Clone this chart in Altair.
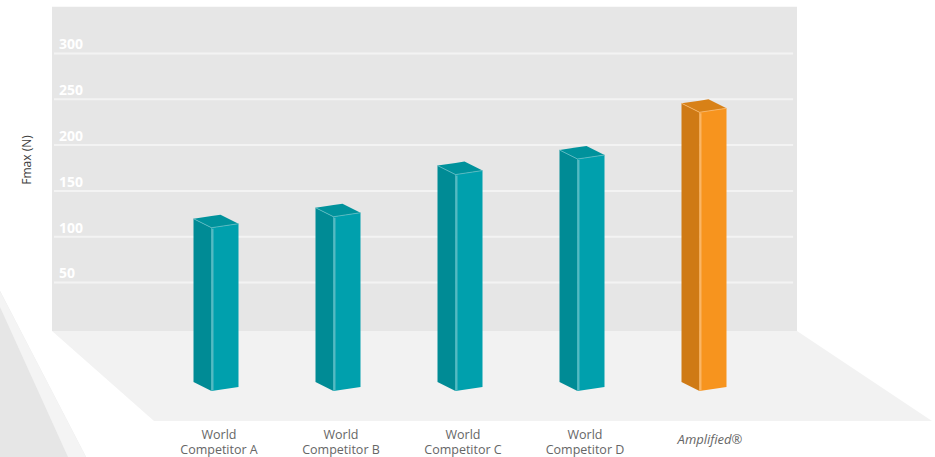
import altair as alt
import pandas as pd

# ---- chart data -------------------------------------------------------------
CATEGORIES = ["World\nCompetitor A", "World\nCompetitor B", "World\nCompetitor C",
              "World\nCompetitor D", "Amplified®"]
FMAX = [124, 136, 182, 199, 250]
IS_OURS = [False, False, False, False, True]
Y_TICKS = [50, 100, 150, 200, 250, 300]
Y_TITLE = "Fmax (N)"

# ---- layout frame (scale units: x = slot index, y = newtons) ----------------
W, H = 935, 457
SLOT_PX = 122.0          # pixels between neighbouring bars
UNIT_PX = 0.916          # pixels per newton
X_DOMAIN = [-1.7705, 5.8934]
Y_DOMAIN = [-140.5, 358.4]

WALL_X = (-1.344, 4.762)
WALL_Y = (-3.0, 351.0)
GRID_X = (-1.328, 4.730)
FLOOR_FRONT = -101.2
FLOOR_FRONT_X = (-0.508, 5.869)
BAR_BASE = -68.4


def dx(px):
    return px / SLOT_PX


def dy(px):
    return px / UNIT_PX


TEAL = {"side": "#008b95", "front": "#00a0ad", "top": "#00929c", "edge": "#63bec6"}
ORANGE = {"side": "#cf7a15", "front": "#f7941e", "top": "#d88117", "edge": "#fbbb70"}

xs = alt.Scale(domain=X_DOMAIN, nice=False, zero=False)
ys = alt.Scale(domain=Y_DOMAIN, nice=False, zero=False)


def X(field="x"):
    return alt.X(f"{field}:Q", scale=xs, axis=None)


def Y(field="y"):
    return alt.Y(f"{field}:Q", scale=ys, axis=None, stack=False)


# ---- back wall, floor and grid ---------------------------------------------
wall_df = pd.DataFrame({"x": [WALL_X[0]], "x2": [WALL_X[1]],
                        "y": [WALL_Y[0]], "y2": [WALL_Y[1]]})
wall = alt.Chart(wall_df).mark_rect(color="#e6e6e6").encode(
    x=X(), x2="x2:Q", y=Y(), y2="y2:Q")

floor_df = pd.DataFrame({
    "x": [WALL_X[0], FLOOR_FRONT_X[0], WALL_X[1], FLOOR_FRONT_X[1]],
    "y": [WALL_Y[0], WALL_Y[0], WALL_Y[0], FLOOR_FRONT],
    "y2": [WALL_Y[0], FLOOR_FRONT, FLOOR_FRONT, FLOOR_FRONT],
})
floor = alt.Chart(floor_df).mark_area(color="#f2f2f2").encode(
    x=X(), y=Y(), y2="y2:Q")

# soft grey page corner, lower left, with a pale band along its edge
corner_df = pd.DataFrame({
    "x": [X_DOMAIN[0], X_DOMAIN[0] + dx(86)],
    "y": [Y_DOMAIN[0] + dy(166), Y_DOMAIN[0]],
    "y2": [Y_DOMAIN[0], Y_DOMAIN[0]],
})
corner = alt.Chart(corner_df).mark_area(color="#e6e6e6").encode(
    x=X(), y=Y(), y2="y2:Q")
band_df = pd.DataFrame({
    "x": [X_DOMAIN[0], X_DOMAIN[0] + dx(68), X_DOMAIN[0] + dx(86)],
    "y": [Y_DOMAIN[0] + dy(166), Y_DOMAIN[0] + dy(35), Y_DOMAIN[0]],
    "y2": [Y_DOMAIN[0] + dy(150), Y_DOMAIN[0], Y_DOMAIN[0]],
})
band = alt.Chart(band_df).mark_area(color="#f4f4f4").encode(
    x=X(), y=Y(), y2="y2:Q")

grid_df = pd.DataFrame({"v": Y_TICKS,
                        "x": [GRID_X[0]] * len(Y_TICKS),
                        "x2": [GRID_X[1]] * len(Y_TICKS),
                        "xl": [GRID_X[0] + dx(5)] * len(Y_TICKS)})
grid = alt.Chart(grid_df).mark_rule(color="#f3f3f3", strokeWidth=2).encode(
    x=X(), x2="x2:Q", y=Y("v"))
tick_labels = alt.Chart(grid_df).mark_text(
    align="left", baseline="alphabetic", dy=-4, font="Open Sans",
    fontWeight="bold", fontSize=14, color="#ffffff").encode(
    x=X("xl"), y=Y("v"), text="v:Q")

title_df = pd.DataFrame({"t": [Y_TITLE], "x": [X_DOMAIN[0] + dx(27)],
                         "y": [Y_DOMAIN[1] - dy(160)]})
y_title = alt.Chart(title_df).mark_text(
    angle=270, font="Open Sans", fontSize=12, color="#404040").encode(
    x=X(), y=Y(), text="t:N")

# ---- 3-D boxes built from the values ---------------------------------------
face_rows, edge_rows = [], []
for i, (name, v, ours) in enumerate(zip(CATEGORIES, FMAX, IS_OURS)):
    pal = ORANGE if ours else TEAL
    xbl, xfl, xbr, xfr = i - dx(22.5), i - dx(4.5), i + dx(4.5), i + dx(22.5)
    br, bl, fl, fr = v, v - dy(4), v - dy(13), v - dy(9)
    flb, frb, blb = BAR_BASE, BAR_BASE + dy(4), BAR_BASE + dy(9)
    faces = {
        "side": [(xbl, bl, blb), (xfl, fl, flb)],
        "front": [(xfl, fl, flb), (xfr, fr, frb)],
        "top": [(xbl, bl, bl),
                (xfl, bl + (br - bl) * 18 / 27, fl),
                (xbr, br, fl + (fr - fl) * 9 / 27),
                (xfr, fr, fr)],
    }
    for face, pts in faces.items():
        for k, (x, y, y2) in enumerate(pts):
            face_rows.append({"grp": f"{i}-{face}", "x": x, "y": y, "y2": y2,
                              "fill": pal[face]})
    edge_rows += [
        {"kind": "post", "x": xfl + dx(1), "y": fl - dy(1), "x2": xfl + dx(1),
         "y2": flb + dy(0.5), "c": pal["edge"]},
        {"kind": "rim", "x": xfl, "y": fl, "x2": xfr, "y2": fr, "c": pal["edge"]},
        {"kind": "rim", "x": xbl, "y": bl, "x2": xfl, "y2": fl, "c": pal["edge"]},
    ]

faces_df = pd.DataFrame(face_rows)
boxes = alt.Chart(faces_df).mark_area().encode(
    x=X(), y=Y(), y2="y2:Q", detail="grp:N",
    color=alt.Color("fill:N", scale=None))

edges_df = pd.DataFrame(edge_rows)
posts = alt.Chart(edges_df).transform_filter(alt.datum.kind == "post").mark_rule(
    strokeWidth=2, opacity=0.85).encode(
    x=X(), x2="x2:Q", y=Y(), y2="y2:Q", color=alt.Color("c:N", scale=None))
rims = alt.Chart(edges_df).transform_filter(alt.datum.kind == "rim").mark_rule(
    strokeWidth=1, opacity=0.8).encode(
    x=X(), x2="x2:Q", y=Y(), y2="y2:Q", color=alt.Color("c:N", scale=None))

# ---- category labels (one text row per line of each name) -------------------
lab_rows = []
for i, (name, ours) in enumerate(zip(CATEGORIES, IS_OURS)):
    lines = name.split("\n")
    if ours:
        lab_rows.append({"i": i, "t": name, "kind": "ours",
                         "y": FLOOR_FRONT - dy(19)})
    else:
        for j, line in enumerate(lines):
            lab_rows.append({"i": i, "t": line, "kind": "rival",
                             "y": FLOOR_FRONT - dy(13.5 + 15 * j)})
lab_df = pd.DataFrame(lab_rows)
labels = alt.Chart(lab_df).transform_filter(alt.datum.kind == "rival").mark_text(
    baseline="middle", font="Open Sans", fontSize=12.5, color="#666666",
    dx=3).encode(x=X("i"), y=Y(), text="t:N")
label_ours = alt.Chart(lab_df).transform_filter(alt.datum.kind == "ours").mark_text(
    baseline="middle", font="Open Sans", fontStyle="italic",
    fontSize=13, color="#666666", dx=6).encode(
    x=X("i"), y=Y(), text="t:N")

chart = alt.layer(
    corner, band, wall, floor, grid, tick_labels, y_title, boxes, posts, rims,
    labels, label_ours
).properties(
    width=W, height=H, autosize=alt.AutoSizeParams(type="none"), padding=0,
    background="#ffffff"
).configure_view(stroke=None)

chart.save("out.html", embed_options={"renderer": "svg", "actions": False})
